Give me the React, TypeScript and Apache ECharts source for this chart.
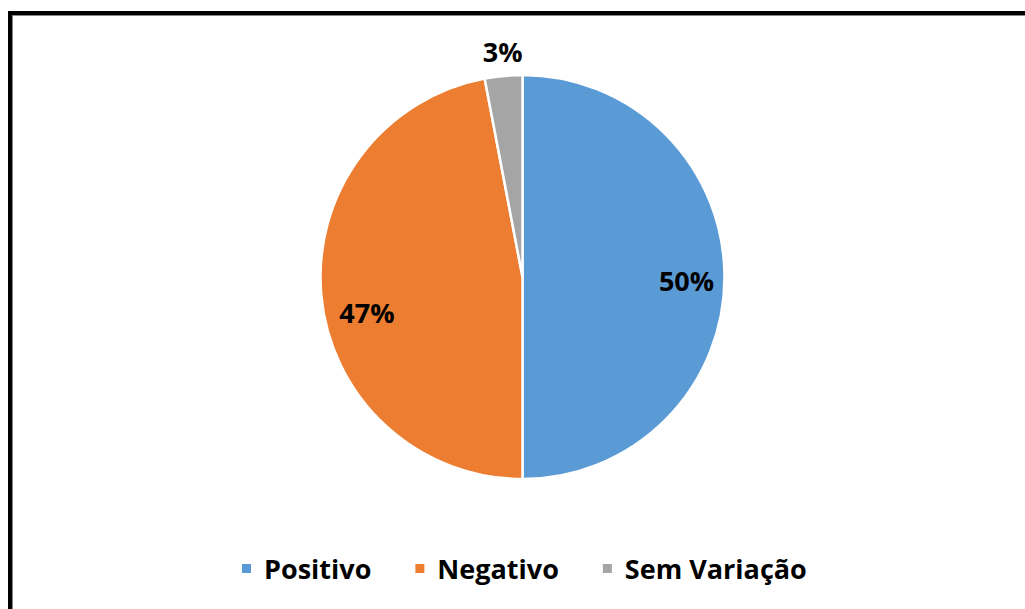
import React, { useEffect, useRef } from "react";
import * as echarts from "echarts";

const categories = ["Positivo", "Negativo", "Sem Variação"];
const values = [50, 47, 3];
const colors = ["#5B9BD5", "#ED7D31", "#A5A5A5"];
const labelOffsets: [number, number][] = [[60, 3], [-52, 26], [-10, -122]];

export default function App() {
  const ref = useRef<HTMLDivElement>(null);
  useEffect(() => {
    const chart = echarts.init(ref.current!, undefined, { renderer: "svg" });
    chart.setOption({
      animation: false,
      backgroundColor: "#ffffff",
      graphic: [
        { type: "rect", shape: { x: 8, y: 11, width: 1017, height: 4 }, style: { fill: "#000" } },
        { type: "rect", shape: { x: 8, y: 11, width: 4, height: 598 }, style: { fill: "#000" } },
        { type: "line", shape: { x1: 12, y1: 15.5, x2: 1025, y2: 15.5 }, style: { stroke: "#888", lineWidth: 1 } },
        { type: "line", shape: { x1: 12.5, y1: 15, x2: 12.5, y2: 609 }, style: { stroke: "#888", lineWidth: 1 } },
      ],
      legend: {
        data: categories,
        top: 550,
        left: 235,
        itemWidth: 11,
        itemHeight: 11,
        itemGap: 42,
        icon: "rect",
        textStyle: {
          fontFamily: "Open Sans",
          fontWeight: "bold",
          fontSize: 27,
          color: "#000",
          padding: [0, 0, 0, 7],
        },
      },
      series: [
        {
          type: "pie",
          center: [522.5, 277],
          radius: 202,
          startAngle: 90,
          clockwise: true,
          itemStyle: { borderColor: "#fff", borderWidth: 2.5 },
          label: {
            show: true,
            position: "inside",
            formatter: "{d}%",
            fontFamily: "Open Sans",
            fontWeight: "bold",
            fontSize: 27,
            color: "#000",
          },
          labelLine: { show: false },
          emphasis: { disabled: true },
          data: categories.map((c, i) => ({
            name: c,
            value: values[i],
            itemStyle: { color: colors[i] },
            label: { offset: labelOffsets[i] },
          })),
        },
      ],
    });
    return () => chart.dispose();
  }, []);
  return <div ref={ref} style={{ position: "fixed", left: 0, top: 0, width: 1025, height: 609 }} />;
}
